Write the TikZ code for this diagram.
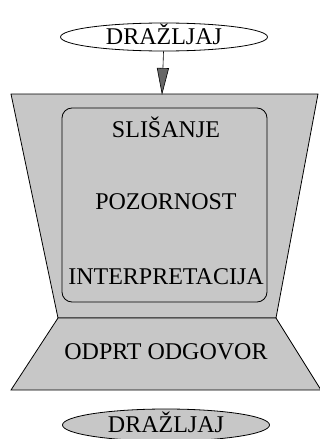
\documentclass[tikz,border=0pt]{standalone}
\usepackage{fontspec}
\setmainfont{Liberation Serif}
\usetikzlibrary{shapes.geometric,arrows.meta}

\begin{document}
\begin{tikzpicture}[x=1pt,y=-1pt,line width=0.8pt,
  napis/.style={font=\fontsize{24}{28}\selectfont,text height=15.5pt,text depth=0pt,inner sep=0pt},
  dr/.style={ellipse,draw,napis,minimum width=207pt,minimum height=28pt},
  siva/.style={fill=black!22,draw}]
\clip (0,0) rectangle (320,439);
\node[dr] (drazljaj) at (164,37) {DRAŽLJAJ};
\coordinate (vrh) at (162,95);

\filldraw[siva] (11,94) -- (318,94) -- (276,318) -- (58,318) -- cycle;
\filldraw[siva,rounded corners=10pt] (62,108) rectangle (267,302);
\filldraw[siva] (58,318) -- (276,318) -- (321,390) -- (11,390) -- cycle;

\node[napis] (slisanje) at (166,130) {SLIŠANJE};
\node[napis] (pozornost) at (166,202) {POZORNOST};
\node[napis] (interp) at (166,277) {INTERPRETACIJA};
\node[napis] (odgovor) at (166,352) {ODPRT ODGOVOR};
\node[dr,siva,minimum height=32pt] (drazljaj2) at (166,425) {DRAŽLJAJ};

\draw[-{Triangle[length=27pt,width=12pt,fill=black!60]},line width=0.6pt] (drazljaj) -- (vrh);
\end{tikzpicture}
\end{document}
